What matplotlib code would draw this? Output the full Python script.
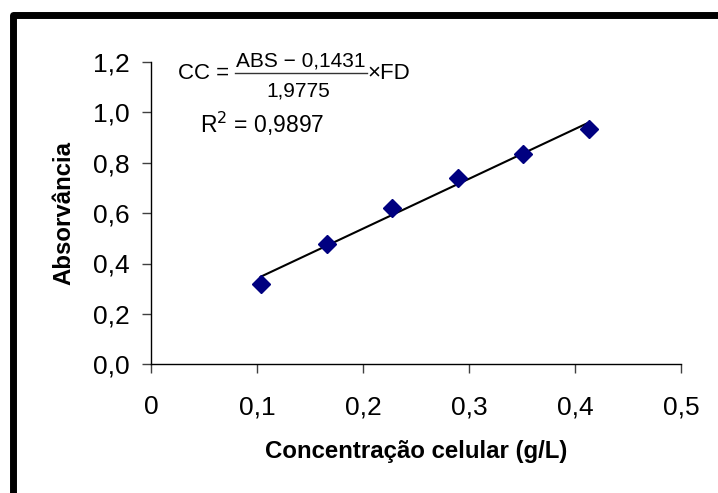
import numpy as np
import matplotlib
matplotlib.use("Agg")
import matplotlib.pyplot as plt
from matplotlib.patches import Rectangle
from matplotlib.lines import Line2D

plt.rcParams['font.family'] = ['Liberation Sans', 'DejaVu Sans']

# Data
conc = [0.1035, 0.1657, 0.2277, 0.2893, 0.3512, 0.4132]
absorb = [0.317, 0.476, 0.621, 0.740, 0.834, 0.935]
xtick_vals = [0, 0.1, 0.2, 0.3, 0.4, 0.5]
xtick_labels = ['0', '0,1', '0,2', '0,3', '0,4', '0,5']
ytick_vals = [0.0, 0.2, 0.4, 0.6, 0.8, 1.0, 1.2]
ytick_labels = ['0,0', '0,2', '0,4', '0,6', '0,8', '1,0', '1,2']
xlabel = 'Concentração celular (g/L)'
ylabel = 'Absorvância'

W, H = 718, 493
fig = plt.figure(figsize=(W / 100, H / 100), dpi=100)
fig.patch.set_facecolor('white')

def fx(px):
    return px / W

def fy(py):
    return 1 - py / H

ax = fig.add_axes([fx(151), fy(364.3), (681 - 151) / W, (364.3 - 61.9) / H])
ax.set_xlim(0, 0.5)
ax.set_ylim(0, 1.2)
for s in ['top', 'right']:
    ax.spines[s].set_visible(False)
for s in ['left', 'bottom']:
    ax.spines[s].set_linewidth(1.0)
    ax.spines[s].set_color('black')

ax.set_xticks(xtick_vals)
ax.set_xticklabels(xtick_labels)
ax.set_yticks(ytick_vals)
ax.set_yticklabels(ytick_labels)
ax.tick_params(axis='both', direction='out', length=6.3, width=1.0,
               color='#404040', labelsize=19, labelcolor='black')
ax.tick_params(axis='x', pad=16)
ax.tick_params(axis='y', pad=9)

ax.set_xlabel(xlabel, fontsize=17.3, fontweight='bold', labelpad=15)
ax.set_ylabel(ylabel, fontsize=17.3, fontweight='bold', labelpad=13)

# Trend line (linear regression)
cx = np.array(conc)
cy = np.array(absorb)
m, b = np.polyfit(cx, cy, 1)
xl = np.array([cx.min(), cx.max()])
ax.plot(xl, m * xl + b, color='black', lw=1.5, zorder=2)

ax.plot(conc, absorb, linestyle='none', marker='D', markersize=9,
        color='#000080', markeredgecolor='#000080', zorder=3, clip_on=False)

# Equation text
fs_big = 16
fs_small = 15
fig.text(fx(229), fy(79.3), 'CC =', fontsize=fs_big, ha='right', va='baseline')
fig.text(fx(300.5), fy(66.7), 'ABS \u2212 0,1431', fontsize=fs_small, ha='center', va='baseline')
fig.text(fx(298.5), fy(96.7), '1,9775', fontsize=fs_small, ha='center', va='baseline')
fig.add_artist(Line2D([fx(235), fx(366.7)], [fy(73), fy(73)], color='#333333', lw=1.0,
                      transform=fig.transFigure))
fig.text(fx(367), fy(79.3), '\u00d7FD', fontsize=fs_big, ha='left', va='baseline')
fig.text(fx(200), fy(133), r'R$^2$ = 0,9897', fontsize=16.5, ha='left', va='baseline')

# Thick frame (left and top visible)
fig.add_artist(Rectangle((fx(12.7), -0.2), 2, fy(14.5) + 0.2, fill=False,
                         edgecolor='black', lw=5.0, joinstyle='round',
                         transform=fig.transFigure))

fig.savefig('out.png', dpi=100, facecolor='white')
